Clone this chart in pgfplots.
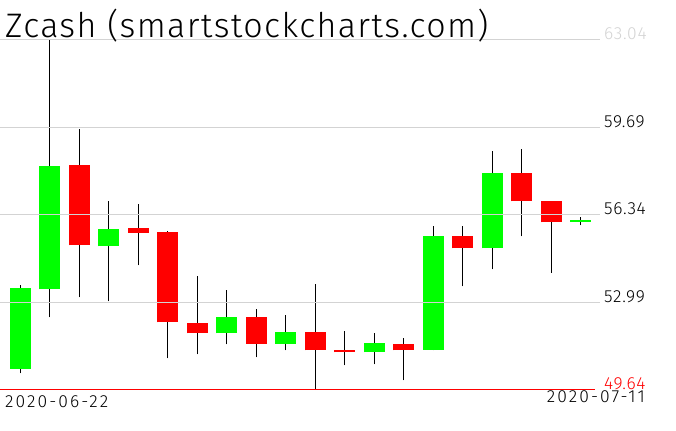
\documentclass[border=0pt]{standalone}
\usepackage{fontspec}
\setmainfont{Liberation Sans}
\newfontfamily\lightfont{Fira Sans Light}
\usepackage{pgfplots}
\usepackage{pgfplotstable}
\pgfplotsset{compat=1.18}
\definecolor{cgreen}{RGB}{0,255,0}
\definecolor{cred}{RGB}{255,0,0}
\definecolor{gridgray}{RGB}{211,211,211}

\pgfplotstableread{
i  open  high  low   close
0  50.46 53.67 50.28 53.56
1  53.49 63.04 52.42 58.23
3  55.14 56.86 53.03 55.82
7  51.81 53.48 51.39 52.45
9  51.42 52.52 51.16 51.87
12 51.08 51.83 50.62 51.45
14 51.19 55.93 51.16 55.55
16 55.06 58.80 54.26 57.96
19 56.09 56.27 55.94 56.15
}\greentab

\pgfplotstableread{
i  open  high  low   close
2  58.27 59.64 53.19 55.18
4  55.85 56.78 54.41 55.66
5  55.70 55.74 50.85 52.23
6  52.22 54.02 51.00 51.81
8  52.45 52.75 50.89 51.42
10 51.87 53.71 49.64 51.16
11 51.18 51.91 50.58 51.08
13 51.41 51.64 50.01 51.16
15 55.55 55.93 53.61 55.06
17 57.96 58.88 55.52 56.86
18 56.89 56.89 54.12 56.06
}\redtab

\newcommand\smallfont{\lightfont\addfontfeature{LetterSpace=4}\fontsize{17.5bp}{20bp}\selectfont}
\newcommand\datefont{\lightfont\addfontfeature{LetterSpace=12}\fontsize{17.5bp}{20bp}\selectfont}

\begin{document}
\begin{tikzpicture}
\path[use as bounding box] (0,0) rectangle (676bp,431bp);
\begin{axis}[
  at={(0bp,41bp)}, anchor=south west,
  scale only axis, width=600bp, height=350bp,
  xmin=-0.696, xmax=19.66, ymin=49.64, ymax=63.04,
  clip=false,
  hide x axis,
  axis line style={draw=none},
  every outer x axis line/.append style={draw=none},
  every outer y axis line/.append style={draw=none},
  ytick={52.99,56.34,59.69,63.04},
  yticklabels={52.99,56.34,59.69,{\color{gridgray}63.04}},
  yticklabel pos=right,
  major tick length=0pt,
  ymajorgrids,
  major grid style={draw=gridgray, line width=1bp},
  yticklabel style={anchor=base west, inner sep=0pt, xshift=4bp, font=\smallfont},
  axis on top,
]
% wicks
\addplot[draw=none, no markers, forget plot,
  error bars/.cd, y dir=plus, y explicit, error mark=none,
  error bar style={draw=black, line width=1bp}]
  table[x=i, y=low, y error plus expr=\thisrow{high}-\thisrow{low}] {\greentab};
\addplot[draw=none, no markers, forget plot,
  error bars/.cd, y dir=plus, y explicit, error mark=none,
  error bar style={draw=black, line width=1bp}]
  table[x=i, y=low, y error plus expr=\thisrow{high}-\thisrow{low}] {\redtab};
% bodies
\addplot[draw=none, no markers, forget plot,
  error bars/.cd, y dir=plus, y explicit, error mark=none,
  error bar style={draw=cgreen, line width=21bp}]
  table[x=i, y expr={min(\thisrow{open},\thisrow{close})}, y error plus expr={abs(\thisrow{close}-\thisrow{open})}] {\greentab};
\addplot[draw=none, no markers, forget plot,
  error bars/.cd, y dir=plus, y explicit, error mark=none,
  error bar style={draw=cred, line width=21bp}]
  table[x=i, y expr={min(\thisrow{open},\thisrow{close})}, y error plus expr={abs(\thisrow{close}-\thisrow{open})}] {\redtab};
% period low line
\addplot[cred, line width=1bp, no markers, forget plot] coordinates {(-0.696,49.64) (19.5,49.64)};
\node[anchor=base west, inner sep=0pt, xshift=4bp, text=cred, font=\smallfont] at (axis cs:19.66,49.64) {49.64};
\end{axis}
\node[anchor=base west, inner sep=0pt, font=\lightfont\addfontfeature{LetterSpace=4}\fontsize{34bp}{38bp}\selectfont] at (5bp,393bp) {Zcash (smartstockcharts.com)};
\node[anchor=base west, inner sep=0pt, font=\datefont] at (5bp,24bp) {2020-06-22};
\node[anchor=base east, inner sep=0pt, font=\datefont] at (645bp,29bp) {2020-07-11};
\end{tikzpicture}
\end{document}
